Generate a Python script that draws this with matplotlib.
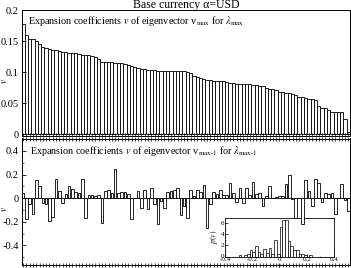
import matplotlib
matplotlib.use("Agg")
import matplotlib.pyplot as plt
from matplotlib.ticker import MultipleLocator, FixedLocator

plt.rcParams['font.family'] = ['Liberation Serif', 'DejaVu Serif']
plt.rcParams['mathtext.fontset'] = 'stix'

# ---------------- data ----------------
v_max = [0.177, 0.159, 0.154, 0.154, 0.150, 0.146, 0.141, 0.138, 0.137, 0.136,
         0.135, 0.134, 0.133, 0.132, 0.131, 0.130, 0.130, 0.129, 0.128, 0.128,
         0.127, 0.126, 0.124, 0.121, 0.117, 0.116, 0.116, 0.116, 0.115, 0.115,
         0.114, 0.113, 0.112, 0.110, 0.108, 0.106, 0.105, 0.105, 0.104, 0.104,
         0.104, 0.102, 0.102, 0.102, 0.102, 0.102, 0.101, 0.101, 0.101, 0.101,
         0.100, 0.098, 0.093, 0.092, 0.090, 0.089, 0.088, 0.087, 0.086, 0.086,
         0.086, 0.086, 0.084, 0.082, 0.082, 0.081, 0.081, 0.081, 0.081, 0.080,
         0.079, 0.079, 0.078, 0.077, 0.075, 0.072, 0.072, 0.071, 0.068, 0.068,
         0.066, 0.066, 0.064, 0.063, 0.060, 0.060, 0.058, 0.057, 0.056, 0.055,
         0.045, 0.042, 0.042, 0.039, 0.036, 0.035, 0.035, 0.035, 0.025, 0.003]

v_max1 = [0.04, -0.18, -0.05, -0.13, 0.155, 0.10, -0.04, -0.05, -0.19, -0.16,
          0.165, 0.06, -0.04, 0.035, 0.10, 0.08, 0.055, 0.045, 0.16, -0.17,
          0.025, 0.025, 0.015, 0.03, -0.21, 0.065, 0.07, 0.04, 0.245, 0.04,
          0.055, 0.05, 0.035, -0.175, 0.002, 0.065, -0.085, 0.07, -0.09, 0.085,
          -0.05, -0.215, -0.02, -0.085, 0.055, 0.06, 0.07, 0.09, -0.14, -0.07,
          -0.17, 0.07, 0.02, 0.07, 0.055, 0.11, -0.255, -0.05, 0.055, 0.035,
          0.07, 0.025, 0.03, 0.125, 0.04, -0.03, 0.085, -0.04, 0.085, 0.03,
          0.14, 0.035, 0.04, -0.07, 0.02, 0.10, 0.005, 0.01, 0.02, 0.02,
          0.12, 0.20, -0.01, -0.165, 0.005, -0.215, 0.15, 0.065, -0.065, 0.165,
          0.125, -0.03, 0.04, 0.035, 0.045, -0.135, 0.003, 0.12, -0.015, -0.11]

hist_left = [-0.30, -0.26, -0.24, -0.22, -0.20, -0.18, -0.16, -0.14, -0.12, -0.10,
             -0.08, -0.06, -0.04, -0.02, 0.00, 0.02, 0.04, 0.06, 0.08, 0.10,
             0.12, 0.14, 0.16, 0.18, 0.22]
hist_pdf = [0.2, 0.3, 0.4, 1.1, 0.8, 1.9, 0.8, 0.5, 1.4, 0.6,
            1.6, 0.5, 3.0, 0.4, 5.3, 6.5, 6.5, 2.7, 1.8, 1.2,
            1.2, 0.4, 0.4, 0.3, 0.3]

title = "Base currency α=USD"
label_top = r"Expansion coefficients $v$ of eigenvector v$_{\rm max}$ for $\lambda_{\rm max}$"
label_bot = r"Expansion coefficients $v$ of eigenvector v$_{\rm max\text{-}1}$ for $\lambda_{\rm max\text{-}1}$"

# ---------------- figure ----------------
W, H = 351, 268
fig = plt.figure(figsize=(W / 100, H / 100), dpi=100)

def fx(px):
    return px / W

def fy(py):
    return 1 - py / H

n = len(v_max)
idx = list(range(1, n + 1))

# title
fig.text(fx(186), fy(5), title, fontsize=8.5, ha='center', va='center')

# top panel
ax1 = fig.add_axes([fx(21.5), fy(136), fx(350) - fx(21.5), fy(10) - fy(136)])
ax1.bar(idx, v_max, width=1.0, color='white', edgecolor='black', linewidth=0.6)
ax1.set_xlim(0.5, n + 0.5)
ax1.set_ylim(-0.003, 0.2)
ax1.set_yticks([0, 0.05, 0.1, 0.15, 0.2])
ax1.set_yticklabels(['0', '0.05', '0.1', '0.15', '0.2'])
ax1.xaxis.set_major_locator(FixedLocator(idx))
ax1.set_xticklabels([])
ax1.tick_params(axis='x', direction='in', length=2, width=0.5, bottom=True, top=False)
ax1.tick_params(axis='y', direction='in', length=3, width=0.6, labelsize=7.5, pad=2)
ax1.text(0.02, 0.965, label_top, transform=ax1.transAxes, fontsize=7.3,
         ha='left', va='top')
for s in ax1.spines.values():
    s.set_linewidth(0.7)
fig.text(fx(4.2), fy(81), r"$v$", fontsize=7, rotation=90, ha='center', va='center')

# bottom panel
ax2 = fig.add_axes([fx(21.5), fy(265), fx(350) - fx(21.5), fy(138.5) - fy(265)])
ax2.patch.set_alpha(0)
ax2.bar(idx, v_max1, width=0.8, color='white', edgecolor='black', linewidth=0.6,
        zorder=3)
ax2.axhline(0, color='black', linewidth=0.6, zorder=2)
ax2.set_xlim(0.5, n + 0.5)
ax2.set_ylim(-0.565, 0.505)
ax2.set_yticks([-0.4, -0.2, 0, 0.2, 0.4])
ax2.set_yticklabels(['-0.4', '-0.2', '0', '0.2', '0.4'])
ax2.yaxis.set_minor_locator(MultipleLocator(0.1))
ax2.xaxis.set_major_locator(FixedLocator(idx))
ax2.set_xticklabels([])
ax2.tick_params(axis='x', direction='inout', length=3, width=0.5, bottom=True, top=True)
ax2.tick_params(axis='y', which='major', direction='in', length=3, width=0.6,
                labelsize=7.5, pad=2)
ax2.tick_params(axis='y', which='minor', direction='in', length=1.5, width=0.5)
ax2.text(0.027, 0.905, label_bot, transform=ax2.transAxes, fontsize=7.3,
         ha='left', va='center')
for s in ax2.spines.values():
    s.set_linewidth(0.7)
fig.text(fx(4.2), fy(209), r"$v$", fontsize=7, rotation=90, ha='center', va='center')

# inset
ax3 = fig.add_axes([fx(225), fy(256.5), fx(334) - fx(225), fy(217.5) - fy(256.5)],
                   zorder=0)
ax3.patch.set_alpha(0)
ax2.set_zorder(1)
ax3.bar(hist_left, hist_pdf, width=0.02, align='edge', color='white',
        edgecolor='black', linewidth=0.5)
ax3.set_xlim(-0.4, 0.4)
ax3.set_ylim(0, 7)
ax3.set_xticks([-0.4, -0.2, 0, 0.2, 0.4])
ax3.set_xticklabels(['-0.4', '-0.2', '0', '0.2', '0.4'])
ax3.xaxis.set_minor_locator(MultipleLocator(0.1))
ax3.set_yticks([0, 2, 4, 6])
ax3.yaxis.set_minor_locator(MultipleLocator(1))
ax3.tick_params(which='major', direction='in', length=2, width=0.5, labelsize=5, pad=0.5)
ax3.tick_params(which='minor', direction='in', length=1, width=0.4)
ax3.set_ylabel(r"$p(v)$", fontsize=5.5, labelpad=0.5)
ax3.set_xlabel(r"$v$", fontsize=5.5, labelpad=-0.5)
for s in ax3.spines.values():
    s.set_linewidth(0.6)

fig.savefig("out.png", dpi=100)
